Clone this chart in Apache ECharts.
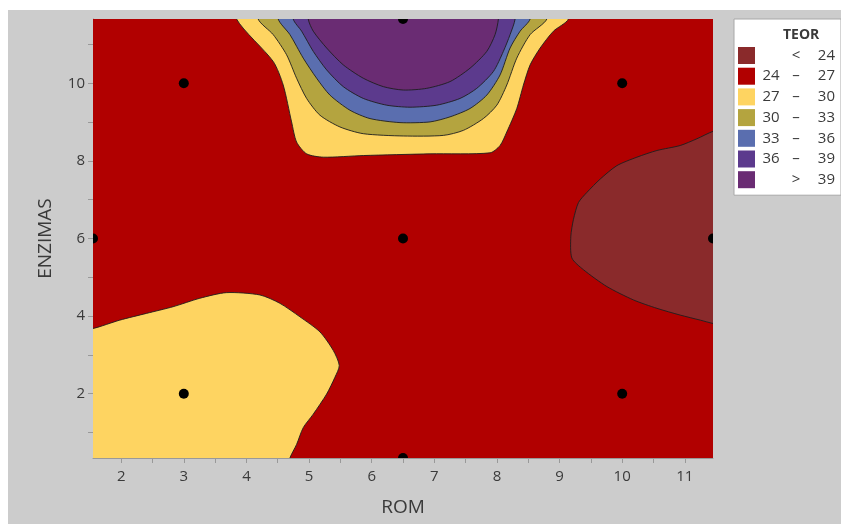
<!DOCTYPE html>
<html>
<head>
<meta charset="utf-8">
<script src="https://cdn.jsdelivr.net/npm/echarts@6/dist/echarts.min.js"></script>
<style>html,body{margin:0;padding:0;background:#fff;}#c{width:841px;height:524px;}</style>
</head>
<body>
<div id="c"></div>
<script>
// Axis extents (central composite design: 6.5 ± 4.95, 6 ± 5.657)
const X_MIN = 1.55, X_MAX = 11.45, Y_MIN = 0.343, Y_MAX = 11.657;

// Tick labels
const xTickLabels = [2, 3, 4, 5, 6, 7, 8, 9, 10, 11];
const xTicks = [2, 2.5, 3, 3.5, 4, 4.5, 5, 5.5, 6, 6.5, 7, 7.5, 8, 8.5, 9, 9.5, 10, 10.5, 11];
const yTickLabels = [2, 4, 6, 8, 10];
const yTicks = [1, 2, 3, 4, 5, 6, 7, 8, 9, 10, 11];

// Design points
const designX = [3, 3, 10, 10, 1.55, 11.45, 6.5, 6.5, 6.5];
const designY = [2, 10, 2, 10, 6, 6, 0.343, 11.657, 6];

// Legend classes
const classNames = ['< 24', '24 – 27', '27 – 30', '30 – 33', '33 – 36', '36 – 39', '> 39'];
const classParts = [['', '<', '24'], ['24', '–', '27'], ['27', '–', '30'], ['30', '–', '33'], ['33', '–', '36'], ['36', '–', '39'], ['', '>', '39']];
const classColors = ['#8a2a2b', '#b10000', '#fed461', '#b4a43f', '#5a6eaf', '#5c3a8d', '#6a2c73'];

// Contour regions (boundary points, data units)
const regionFull = [[X_MIN, Y_MIN], [X_MAX, Y_MIN], [X_MAX, Y_MAX], [X_MIN, Y_MAX]];
const region27Top = [[3.842,12.3],[3.842,11.657],[4.427,10.564],[4.587,9.956],[4.721,9.005],[4.801,8.486],[4.961,8.182],[5.226,8.096],[5.866,8.138],[6.932,8.182],[7.890,8.208],[8.050,8.397],[8.157,8.745],[8.317,9.351],[8.423,9.956],[8.530,10.475],[8.690,10.909],[8.902,11.343],[9.142,11.657],[9.142,12.3]];
const region27Bottom = [[1.2,3.62],[1.55,3.681],[1.977,3.896],[2.404,4.070],[2.829,4.242],[3.256,4.460],[3.682,4.605],[4.215,4.545],[4.534,4.330],[4.854,3.982],[5.174,3.592],[5.386,3.117],[5.482,2.727],[5.413,2.423],[5.281,1.992],[5.067,1.473],[4.907,1.125],[4.801,0.693],[4.694,0.343],[4.65,0.0],[1.2,0.0]];
const region30 = [[4.187,12.3],[4.187,11.657],[4.427,11.255],[4.641,10.735],[4.801,10.130],[4.961,9.610],[5.174,9.177],[5.493,8.875],[5.866,8.701],[6.505,8.642],[7.144,8.657],[7.464,8.787],[7.783,9.091],[7.998,9.436],[8.157,9.956],[8.317,10.649],[8.530,11.255],[8.797,11.657],[8.797,12.3]];
const region33 = [[4.507,12.3],[4.507,11.657],[4.694,11.255],[4.907,10.649],[5.121,10.130],[5.333,9.696],[5.653,9.306],[5.973,9.091],[6.452,8.987],[6.932,9.005],[7.251,9.135],[7.571,9.351],[7.838,9.696],[8.050,10.216],[8.210,10.909],[8.370,11.343],[8.530,11.657],[8.530,12.3]];
const region36 = [[4.747,12.3],[4.747,11.657],[4.881,11.343],[5.067,10.823],[5.281,10.345],[5.546,9.914],[5.866,9.610],[6.240,9.436],[6.612,9.384],[7.039,9.436],[7.411,9.610],[7.678,9.870],[7.943,10.304],[8.103,10.823],[8.210,11.255],[8.290,11.657],[8.290,12.3]];
const region39 = [[4.987,12.3],[4.987,11.657],[5.067,11.343],[5.281,10.909],[5.546,10.475],[5.866,10.130],[6.185,9.914],[6.505,9.826],[6.879,9.870],[7.251,10.044],[7.571,10.390],[7.838,10.823],[7.970,11.255],[8.023,11.657],[8.023,12.3]];
const region24 = [[11.8,8.9],[11.45,8.761],[11.194,8.571],[10.927,8.397],[10.555,8.268],[10.235,8.096],[9.915,7.878],[9.649,7.532],[9.436,7.187],[9.302,6.927],[9.222,6.494],[9.180,6.060],[9.196,5.499],[9.382,5.195],[9.756,4.761],[10.181,4.416],[10.555,4.200],[10.927,4.026],[11.247,3.896],[11.45,3.810],[11.8,3.7]];

const LINE = '#1e1e1e';
const FONT = '"Open Sans", "DejaVu Sans", sans-serif';
const TXT = '#3a3a3a';

function clipRect(params) {
  const cs = params.coordSys;
  return { type: 'rect', shape: { x: cs.x, y: cs.y, width: cs.width, height: cs.height } };
}
function polySeries(name, color, polys, stroke) {
  return {
    type: 'custom', name: name, coordinateSystem: 'cartesian2d',
    itemStyle: { color: color },
    data: polys.map((p, i) => [X_MIN, Y_MIN, i]),
    encode: { x: 0, y: 1 },
    silent: true,
    renderItem: function (params, api) {
      const pts = polys[params.dataIndex].map(p => api.coord(p));
      return {
        type: 'polygon', shape: { points: pts, smooth: stroke ? 0.25 : 0 },
        style: { fill: color, stroke: stroke ? LINE : null, lineWidth: stroke ? 0.9 : 0 },
        clipPath: clipRect(params)
      };
    }
  };
}

const chart = echarts.init(document.getElementById('c'), null, { renderer: 'canvas' });
const option = {
  animation: false,
  backgroundColor: '#cccccc',
  textStyle: { fontFamily: FONT },
  graphic: [
    { type: 'rect', left: 0, top: 0, shape: { width: 841, height: 10 }, style: { fill: '#ffffff' }, silent: true },
    { type: 'rect', left: 0, top: 0, shape: { width: 8, height: 524 }, style: { fill: '#ffffff' }, silent: true }
  ],
  title: {
    text: 'TEOR', left: 783, top: 28, padding: 0,
    textStyle: { fontFamily: FONT, fontSize: 14, fontWeight: 'bold', color: TXT }
  },
  legend: {
    data: classNames, orient: 'vertical', left: 734, top: 19,
    padding: [28, 6, 7, 4], itemWidth: 17, itemHeight: 17, itemGap: 3.7,
    backgroundColor: '#ffffff', borderColor: '#a8a8a8', borderWidth: 1,
    selectedMode: false, icon: 'rect',
    formatter: function (name) {
      const p = classParts[classNames.indexOf(name)];
      return '{a|' + p[0] + '}{b|' + p[1] + '}{c|' + p[2] + '}';
    },
    textStyle: {
      fontFamily: FONT, fontSize: 15, color: TXT, lineHeight: 17,
      rich: {
        a: { width: 22, align: 'right', fontSize: 15, color: TXT, fontFamily: FONT, lineHeight: 17 },
        b: { width: 28, align: 'center', fontSize: 15, color: TXT, fontFamily: FONT, lineHeight: 17 },
        c: { width: 25, align: 'right', fontSize: 15, color: TXT, fontFamily: FONT, lineHeight: 17 }
      }
    }
  },
  grid: { left: 93, right: 128, top: 19, bottom: 66, containLabel: false },
  xAxis: {
    type: 'value', min: X_MIN, max: X_MAX,
    name: 'ROM', nameLocation: 'middle', nameGap: 40,
    nameTextStyle: { fontFamily: FONT, fontSize: 19, color: TXT },
    axisLine: { show: true, lineStyle: { color: '#999999' } },
    axisTick: { show: true, length: 5, customValues: xTicks, lineStyle: { color: '#999999' } },
    axisLabel: { customValues: xTickLabels, margin: 11, fontFamily: FONT, fontSize: 15, color: TXT },
    splitLine: { show: false }
  },
  yAxis: {
    type: 'value', min: Y_MIN, max: Y_MAX,
    name: 'ENZIMAS', nameLocation: 'middle', nameGap: 38,
    nameTextStyle: { fontFamily: FONT, fontSize: 19, color: TXT },
    axisLine: { show: true, lineStyle: { color: '#999999' } },
    axisTick: { show: true, length: 5, customValues: yTicks, lineStyle: { color: '#999999' } },
    axisLabel: { customValues: yTickLabels, margin: 8, fontFamily: FONT, fontSize: 15, color: TXT },
    splitLine: { show: false }
  },
  series: [
    polySeries(classNames[1], classColors[1], [regionFull], false),
    polySeries(classNames[2], classColors[2], [region27Top, region27Bottom], true),
    polySeries(classNames[3], classColors[3], [region30], true),
    polySeries(classNames[4], classColors[4], [region33], true),
    polySeries(classNames[5], classColors[5], [region36], true),
    polySeries(classNames[6], classColors[6], [region39], true),
    polySeries(classNames[0], classColors[0], [region24], true),
    {
      type: 'custom', name: 'design', coordinateSystem: 'cartesian2d', silent: true,
      data: designX.map((x, i) => [x, designY[i]]),
      encode: { x: 0, y: 1 },
      renderItem: function (params, api) {
        const c = api.coord([api.value(0), api.value(1)]);
        return { type: 'circle', shape: { cx: c[0], cy: c[1], r: 5 }, style: { fill: '#000000' }, clipPath: clipRect(params) };
      },
      z: 10
    }
  ]
};
chart.setOption(option);
</script>
</body>
</html>
